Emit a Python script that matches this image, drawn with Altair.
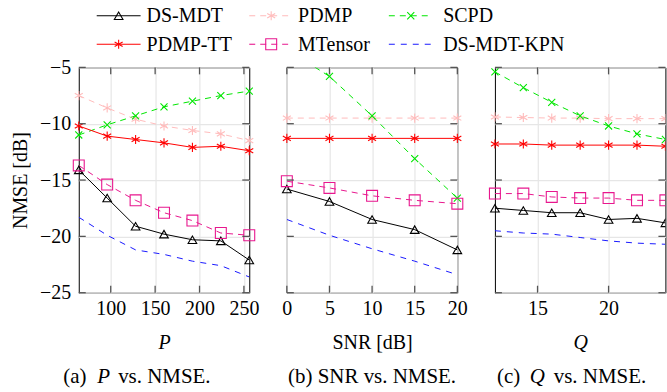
import altair as alt
import pandas as pd

# ---------------- data ----------------
SERIES = ["DS-MDT", "PDMP", "SCPD", "PDMP-TT", "MTensor", "DS-MDT-KPN"]
COLORS = ["#000000", "#ffbcbc", "#00e600", "#ff0000", "#e8178e", "#1a1aff"]

P_VALUES = [64, 96, 128, 160, 192, 224, 256]
P_DS_MDT = [-14.1, -16.6, -19.1, -19.8, -20.3, -20.4, -22.1]
P_PDMP = [-7.5, -8.6, -9.6, -10.2, -10.6, -10.9, -11.5]
P_SCPD = [-11.0, -10.1, -9.3, -8.5, -8.0, -7.5, -7.1]
P_PDMP_TT = [-10.2, -11.1, -11.4, -11.7, -12.1, -12.0, -12.4]
P_MTENSOR = [-13.7, -15.4, -16.8, -17.9, -18.6, -19.7, -19.9]
P_KPN = [-18.3, -19.9, -21.2, -21.6, -22.2, -22.6, -23.6]

SNR_VALUES = [0, 5, 10, 15, 20]
SNR_DS_MDT = [-15.8, -16.9, -18.5, -19.4, -21.2]
SNR_PDMP = [-9.5, -9.5, -9.5, -9.5, -9.5]
SNR_SCPD = [-3.4, -5.8, -9.3, -13.1, -16.6]
SNR_PDMP_TT = [-11.3, -11.3, -11.3, -11.3, -11.3]
SNR_MTENSOR = [-15.1, -15.7, -16.4, -16.8, -17.1]
SNR_KPN = [-18.5, -19.9, -21.1, -22.2, -23.4]

Q_VALUES = [12, 14, 16, 18, 20, 22, 24]
Q_DS_MDT = [-17.5, -17.7, -17.9, -17.9, -18.5, -18.4, -18.8]
Q_PDMP = [-9.4, -9.45, -9.5, -9.5, -9.55, -9.55, -9.55]
Q_SCPD = [-5.4, -6.8, -8.1, -9.3, -10.2, -10.9, -11.4]
Q_PDMP_TT = [-11.8, -11.8, -11.9, -11.9, -11.9, -11.9, -12.0]
Q_MTENSOR = [-16.2, -16.2, -16.5, -16.6, -16.6, -16.8, -16.8]
Q_KPN = [-19.5, -19.7, -19.8, -20.1, -20.4, -20.6, -20.7]

Y_TICKS = [-25, -20, -15, -10, -5]
P_TICKS = [100, 150, 200, 250]
SNR_TICKS = [0, 5, 10, 15, 20]
Q_TICKS = [15, 20]

# ---------------- styles ----------------
FONT = "Liberation Serif"
W, H = 171, 226
GRID = "#e6e6e6"
TICKC = "#555555"
ASTER = "M0,-1L0,1M-0.87,-0.5L0.87,0.5M-0.87,0.5L0.87,-0.5"
XMARK = "M-1,-1L1,1M-1,1L1,-1"
DASHES = [None, [6, 5], [6, 5], None, [6, 5], [6, 6]]
SHAPES = ["triangle-up", ASTER, XMARK, ASTER, "square", None]
SIZES = [75, 85, 50, 85, 120, 0]


def line_layer(df, i, X, Y):
    kw = dict(color=COLORS[i], strokeWidth=1.0, clip=True)
    if DASHES[i] is not None:
        kw["strokeDash"] = DASHES[i]
    return alt.Chart(df).mark_line(**kw).encode(x=X, y=Y)


def point_layer(df, i, X, Y, clip=False):
    return alt.Chart(df).mark_point(
        shape=SHAPES[i], size=SIZES[i], color=COLORS[i], filled=False,
        strokeWidth=1.1, opacity=1, clip=clip
    ).encode(x=X, y=Y)


def panel(xvals, series_vals, domain, xticks, xtitle, italic, first, extra, clip_x=None):
    xaxis = dict(values=xticks, grid=True, gridColor=GRID, gridWidth=1.2,
                 ticks=False, tickSize=0, domain=False, labelFont=FONT,
                 labelFontSize=20, labelColor="black", labelPadding=6,
                 labelFlush=False, labelOverlap=False, title=xtitle,
                 titleFont=FONT, titleFontSize=20, titleFontWeight="normal",
                 titleColor="black", titlePadding=14)
    if italic:
        xaxis["titleFontStyle"] = "italic"
    X = alt.X("x:Q", scale=alt.Scale(domain=domain, nice=False, zero=False),
              axis=alt.Axis(**xaxis))
    yaxis = dict(values=Y_TICKS, grid=True, gridColor=GRID, gridWidth=1.2,
                 ticks=False, tickSize=0, domain=False, labels=first,
                 labelFont=FONT, labelFontSize=20, labelColor="black",
                 labelPadding=8, labelFlush=False, labelOverlap=False)
    if first:
        yaxis.update(title="NMSE [dB]", titleFont=FONT, titleFontSize=20,
                     titleFontWeight="normal", titleColor="black", titlePadding=9)
    else:
        yaxis.update(title=None)
    Y = alt.Y("y:Q", scale=alt.Scale(domain=[-25, -5], nice=False, zero=False),
              axis=alt.Axis(**yaxis))

    layers = []
    for i, name in enumerate(SERIES):
        df = pd.DataFrame({"x": xvals, "y": series_vals[i]})
        layers.append(line_layer(df, i, X, Y))
    for i, name in enumerate(SERIES):
        if SHAPES[i] is None:
            continue
        df = pd.DataFrame({"x": xvals, "y": series_vals[i]})
        df = df[(df.y >= -25) & (df.y <= -5)]
        if clip_x is not None:
            layers.append(point_layer(df[df.x < clip_x], i, X, Y))
            layers.append(point_layer(df[df.x >= clip_x], i, X, Y, clip=True))
        else:
            layers.append(point_layer(df, i, X, Y))

    # inward pgfplots-style tick marks
    tx = pd.DataFrame({"x": xticks})
    ty = pd.DataFrame({"y": Y_TICKS})
    tk = dict(color=TICKC, strokeWidth=1.3)
    layers.append(alt.Chart(tx).mark_rule(**tk).encode(x=X, y=alt.value(0), y2=alt.value(7)))
    layers.append(alt.Chart(tx).mark_rule(**tk).encode(x=X, y=alt.value(H - 7), y2=alt.value(H)))
    layers.append(alt.Chart(ty).mark_rule(**tk).encode(y=Y, x=alt.value(0), x2=alt.value(7)))
    layers.append(alt.Chart(ty).mark_rule(**tk).encode(y=Y, x=alt.value(W - 7), x2=alt.value(W)))
    layers.extend(extra)
    return alt.layer(*layers).properties(width=W, height=H)


ONE = pd.DataFrame({"k": [0]})


def txt(s, x, y, size=20, italic=False, align="left"):
    kw = dict(font=FONT, fontSize=size, align=align, baseline="alphabetic", color="black")
    if italic:
        kw["fontStyle"] = "italic"
    return alt.Chart(ONE).mark_text(**kw).encode(
        x=alt.value(x), y=alt.value(y), text=alt.value(s))


# legend (relative to first panel's plot origin)
LEG_ROWS = [-51.8, -23.2]
LEG_MARK_X = [40, 193, 333]
LEG_TEXT_X = [68, 220, 365.5]
legend = []
for i, name in enumerate(SERIES):
    r, c = divmod(i, 3)
    ly = LEG_ROWS[r]
    mx = LEG_MARK_X[c]
    kw = dict(color=COLORS[i], strokeWidth=1.1)
    if DASHES[i] is not None:
        kw["strokeDash"] = DASHES[i]
    legend.append(alt.Chart(ONE).mark_rule(**kw).encode(
        x=alt.value(mx - 22), x2=alt.value(mx + 22), y=alt.value(ly)))
    if SHAPES[i] is not None:
        legend.append(alt.Chart(ONE).mark_point(
            shape=SHAPES[i], size=SIZES[i], color=COLORS[i], filled=False,
            strokeWidth=1.1, opacity=1).encode(x=alt.value(mx), y=alt.value(ly)))
    legend.append(txt(name, LEG_TEXT_X[c], ly + 6.5))

# invisible anchor fixing the page frame
anchor = alt.Chart(ONE).mark_rule(strokeOpacity=0, strokeWidth=0).encode(
    x=alt.value(-78.5), x2=alt.value(588.5), y=alt.value(-66.5), y2=alt.value(325.5))

CAP_Y = 316.5
extra1 = legend + [anchor,
                   txt("(a)", -15.5, CAP_Y, 21), txt("P", 18.5, CAP_Y, 21, italic=True),
                   txt("vs. NMSE.", 39.5, CAP_Y, 21)]
extra2 = [txt("(b) SNR vs. NMSE.", W / 2, CAP_Y, 21, align="center")]
extra3 = [txt("(c)", 2, CAP_Y, 21), txt("Q", 35, CAP_Y, 21, italic=True),
          txt("vs. NMSE.", 59, CAP_Y, 21)]

p1 = panel(P_VALUES, [P_DS_MDT, P_PDMP, P_SCPD, P_PDMP_TT, P_MTENSOR, P_KPN],
           [64, 256], P_TICKS, "P", True, True, extra1)
p2 = panel(SNR_VALUES, [SNR_DS_MDT, SNR_PDMP, SNR_SCPD, SNR_PDMP_TT, SNR_MTENSOR, SNR_KPN],
           [0, 20], SNR_TICKS, "SNR [dB]", False, False, extra2)
p3 = panel(Q_VALUES, [Q_DS_MDT, Q_PDMP, Q_SCPD, Q_PDMP_TT, Q_MTENSOR, Q_KPN],
           [12, 24], Q_TICKS, "Q", True, False, extra3, clip_x=24)

chart = alt.hconcat(p1, p2, p3, spacing=37.7, bounds="flush").properties(
    padding=0, autosize=alt.AutoSizeParams(type="pad"), background="white"
).configure(font=FONT).configure_axis(
    labelFont=FONT, titleFont=FONT
).configure_text(font=FONT).configure_view(stroke="black", strokeWidth=1)

chart.save("out.html", embed_options={"renderer": "svg", "actions": False})
